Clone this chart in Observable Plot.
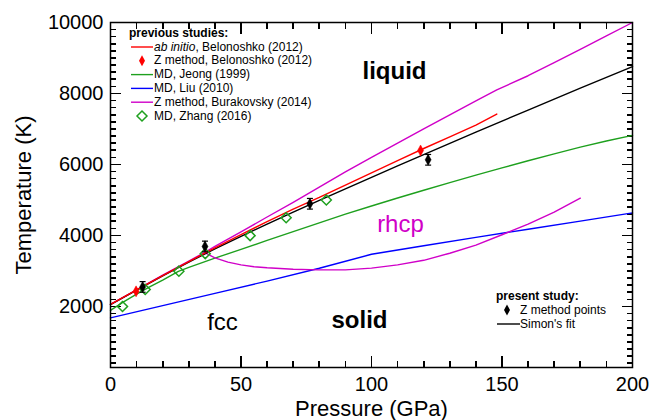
<!DOCTYPE html>
<html><head><meta charset="utf-8">
<script src="https://cdn.jsdelivr.net/npm/d3@7"></script>
<script src="https://cdn.jsdelivr.net/npm/@observablehq/plot@0.6"></script>
<style>
body{margin:0;background:#fff;}
#wrap{position:relative;width:651px;height:420px;font-family:"Liberation Sans",Arial,Helvetica,sans-serif;}
.leg{position:absolute;font-size:12px;line-height:14px;white-space:nowrap;color:#000;}
</style></head><body><div id="wrap"></div>
<script>
// ---- data ----
const simonP = [0,10,20,30,40,50,60,70,80,90,100,110,120,130,140,150,160,170,180,190,200];
const simonT = [2050,2460,2860,3250,3620,3975,4320,4660,4990,5315,5638,5959,6278,6595,6910,7223,7534,7843,8150,8455,8758];

const beloLineP = [0,10,20,30,40,50,60,70,80,90,100,110,120,130,140,148];
const beloLineT = [2060,2470,2870,3265,3650,4025,4390,4740,5070,5420,5765,6110,6450,6775,7110,7420];

const jeongP = [0,5,10,15,20,26,30,40,50,60,70,80,90,100,110,120,130,140,150,160,170,180,190,200];
const jeongT = [1890,2130,2350,2550,2740,2990,3100,3360,3610,3860,4110,4355,4600,4830,5055,5275,5490,5700,5905,6105,6300,6490,6660,6820];

const liuP = [0,20,40,60,80,100,120,140,160,180,200];
const liuT = [1680,2025,2370,2715,3075,3470,3710,3945,4175,4405,4635];

const buraLiqP = [0,10,20,30,36,40,50,60,70,80,90,100,110,120,130,140,148,160,170,180,190,200];
const buraLiqT = [2060,2470,2880,3280,3520,3690,4100,4520,4930,5360,5790,6200,6600,7000,7400,7790,8100,8500,8870,9240,9620,10000];

const buraSolP = [36,40,45,50,55,60,70,80,90,100,110,120,130,140,150,160,170,180];
const buraSolT = [3520,3370,3250,3170,3120,3090,3050,3030,3030,3080,3170,3300,3500,3730,4020,4320,4660,5050];

const zhangP = [4.6,13.3,26.2,36.3,53.5,67.3,82.7];
const zhangT = [2000,2480,2994,3488,3995,4500,5000];

const beloZP = [9.8,118.8];
const beloZT = [2425,6394];

const zP = [12.3,36.2,76.4,121.7];
const zT = [2550,3690,4893,6132];
const zErr = [150,150,150,150];

const boldLabels = ["liquid","solid"];
const boldP = [108.8,95.4];
const boldT = [8620,1605];
const plainLabels = ["rhcp","fcc"];
const plainP = [111.1,42.9];
const plainT = [4310,1549];

const xMajor = [0,50,100,150,200];
const yMajor = [2000,4000,6000,8000,10000];
const xMinor = [0,10,20,30,40,50,60,70,80,90,100,110,120,130,140,150,160,170,180,190,200];
const yMinor = d3.range(400,10001,200);
const xLabel = "Pressure (GPa)";
const yLabel = "Temperature (K)";

const legendPrev = ["<i>ab initio</i>, Belonoshko (2012)","Z method, Belonoshko (2012)","MD, Jeong (1999)","MD, Liu (2010)","Z method, Burakovsky (2014)","MD, Zhang (2016)"];
const legendPresent = ["Z method points","Simon's fit"];

// ---- styles / layout ----
const RED="#ff0000", GREEN="#1ea01e", BLUE="#0000ff", MAG="#d000c8", BLK="#000000";
const rows = (P,T) => P.map((p,i)=>({p, t:T[i]}));
const narrowDiamond = {draw(c){c.moveTo(0,-5.5);c.lineTo(3,0);c.lineTo(0,5.5);c.lineTo(-3,0);c.closePath();}};
const openDiamond = {draw(c){c.moveTo(0,-5);c.lineTo(5,0);c.lineTo(0,5);c.lineTo(-5,0);c.closePath();}};
const capSym = {draw(c){c.moveTo(-3,0);c.lineTo(3,0);}};

const W=651, H=420, ML=110, MR=19, MT=22, MB=53;
const XD = [0,200], YD = [280,10000];
const zRows = zP.map((p,i)=>({p, t:zT[i], e:zErr[i]}));
const sw = 1.4;
const MINL = 6, MAJL = 11;
const tickStyle = {stroke:BLK, strokeWidth:1.6, shapeRendering:"crispEdges"};

const chart = Plot.plot({
  width: W, height: H,
  marginLeft: ML, marginRight: MR, marginTop: MT, marginBottom: MB,
  x: {domain: XD},
  y: {domain: YD},
  style: {fontFamily: '"Liberation Sans",Arial,Helvetica,sans-serif', background: "white", color: "black"},
  marks: [
    // inward, mirrored ticks: Plot's own axis ticks on all four sides
    Plot.axisX(xMinor, {anchor:"bottom", tickSize:MINL, dy:-MINL, text:null, label:null, ...tickStyle}),
    Plot.axisX(xMajor, {anchor:"bottom", tickSize:MAJL, dy:-MAJL, text:null, label:null, ...tickStyle}),
    Plot.axisX(xMinor, {anchor:"top", tickSize:MINL, dy:MINL, text:null, label:null, ...tickStyle}),
    Plot.axisX(xMajor, {anchor:"top", tickSize:MAJL, dy:MAJL, text:null, label:null, ...tickStyle}),
    Plot.axisY(yMinor, {anchor:"left", tickSize:MINL, dx:MINL, text:null, label:null, ...tickStyle}),
    Plot.axisY(yMajor, {anchor:"left", tickSize:MAJL, dx:MAJL, text:null, label:null, ...tickStyle}),
    Plot.axisY(yMinor, {anchor:"right", tickSize:MINL, dx:-MINL, text:null, label:null, ...tickStyle}),
    Plot.axisY(yMajor, {anchor:"right", tickSize:MAJL, dx:-MAJL, text:null, label:null, ...tickStyle}),
    Plot.line(rows(liuP,liuT), {x:"p", y:"t", stroke:BLUE, strokeWidth:sw}),
    Plot.line(rows(jeongP,jeongT), {x:"p", y:"t", stroke:GREEN, strokeWidth:sw}),
    Plot.line(rows(buraSolP,buraSolT), {x:"p", y:"t", stroke:MAG, strokeWidth:sw}),
    Plot.line(rows(buraLiqP,buraLiqT), {x:"p", y:"t", stroke:MAG, strokeWidth:sw}),
    Plot.line(rows(simonP,simonT), {x:"p", y:"t", stroke:BLK, strokeWidth:sw}),
    Plot.line(rows(beloLineP,beloLineT), {x:"p", y:"t", stroke:RED, strokeWidth:sw}),
    Plot.dot(rows(zhangP,zhangT), {x:"p", y:"t", symbol:openDiamond, stroke:GREEN, strokeWidth:1.5, fill:"none"}),
    Plot.dot(rows(beloZP,beloZT), {x:"p", y:"t", symbol:narrowDiamond, fill:RED, stroke:RED, strokeWidth:0.5}),
    Plot.ruleX(zRows, {x:"p", y1:d=>d.t-d.e, y2:d=>d.t+d.e, stroke:BLK, strokeWidth:1.2}),
    Plot.dot(zRows, {x:"p", y:d=>d.t-d.e, symbol:capSym, stroke:BLK, strokeWidth:1.2}),
    Plot.dot(zRows, {x:"p", y:d=>d.t+d.e, symbol:capSym, stroke:BLK, strokeWidth:1.2}),
    Plot.dot(zRows, {x:"p", y:"t", symbol:narrowDiamond, fill:BLK, stroke:BLK, strokeWidth:0.5}),
    Plot.text(rows(boldP,boldT).map((d,i)=>({...d, s:boldLabels[i]})), {x:"p", y:"t", text:"s", fontSize:24, fontWeight:"bold", fill:BLK}),
    Plot.text(rows(plainP,plainT).map((d,i)=>({...d, s:plainLabels[i]})), {x:"p", y:"t", text:"s", fontSize:24, fill:d=>d.s==="rhcp"?MAG:BLK}),
    // tick labels
    Plot.axisX(xMajor, {anchor:"bottom", tickSize:0, tickPadding:9, fontSize:20, label:null}),
    Plot.axisY(yMajor, {anchor:"left", tickSize:0, tickPadding:7, fontSize:20, label:null, tickFormat:d=>String(d)}),
    // axis titles
    Plot.text([xLabel], {frameAnchor:"bottom", dy:41, text:d=>d, fontSize:22, lineAnchor:"middle"}),
    Plot.text([yLabel], {frameAnchor:"left", dx:-87, text:d=>d, fontSize:22, rotate:-90, lineAnchor:"middle", textAnchor:"middle"}),
    Plot.frame({stroke:BLK, strokeWidth:1.5})
  ]
});
const wrap = document.getElementById("wrap");
wrap.appendChild(chart);

// ---- legends: HTML text + swatches added inside the chart svg ----
const ns="http://www.w3.org/2000/svg";
function addText(html, left, cy, bold){
  const d=document.createElement("div"); d.className="leg";
  d.style.left=left+"px"; d.style.top=(cy-7.5)+"px";
  if(bold) d.style.fontWeight="bold";
  d.innerHTML=html; wrap.appendChild(d);
}
function addSwatch(kind, color, x, cy, x2){
  let el;
  if(kind==="line"){ el=document.createElementNS(ns,"line"); el.setAttribute("x1",x); el.setAttribute("x2",x2); el.setAttribute("y1",cy); el.setAttribute("y2",cy); el.setAttribute("stroke",color); el.setAttribute("stroke-width",1.4); }
  else if(kind==="narrow"){ el=document.createElementNS(ns,"path"); el.setAttribute("d",`M${x},${cy-5.5}L${x+3},${cy}L${x},${cy+5.5}L${x-3},${cy}Z`); el.setAttribute("fill",color); }
  else { el=document.createElementNS(ns,"path"); el.setAttribute("d",`M${x},${cy-5}L${x+5},${cy}L${x},${cy+5}L${x-5},${cy}Z`); el.setAttribute("fill","none"); el.setAttribute("stroke",color); el.setAttribute("stroke-width",1.5); }
  chart.appendChild(el);
}
addText("previous studies:", 129, 33, true);
const prevKinds = [["line",RED],["narrow",RED],["line",GREEN],["line",BLUE],["line",MAG],["open",GREEN]];
legendPrev.forEach((lab,i)=>{
  const cy = 47 + i*13.8;
  const [k,c] = prevKinds[i];
  if(k==="line") addSwatch(k,c,131,cy,153); else addSwatch(k,c,142,cy);
  addText(lab, 154, cy, false);
});
addText("present study:", 496, 296, true);
addSwatch("narrow", BLK, 507, 310);
addText(legendPresent[0], 520, 310, false);
addSwatch("line", BLK, 497, 324, 520);
addText(legendPresent[1], 520, 324, false);
</script></body></html>
